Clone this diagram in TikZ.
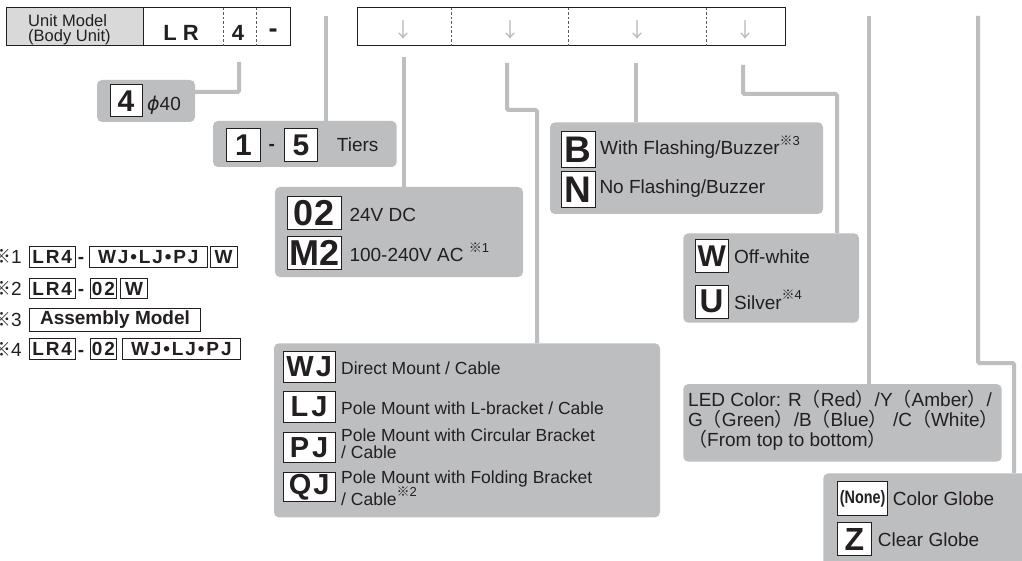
\documentclass[tikz,border=0pt]{standalone}
\usepackage{fontspec}
\setmainfont{Liberation Sans}
\newfontfamily\codefont{Liberation Sans Bold}
\newfontfamily\fncode{Liberation Sans Bold}[LetterSpace=10]
\newfontfamily\narrowcode{Liberation Sans Bold}[FakeStretch=0.8]
\newfontfamily\cjk{Noto Sans CJK SC}
\newfontfamily\djv{DejaVu Sans Oblique}
\definecolor{boxgray}{RGB}{189,190,192}
\definecolor{cellgray}{RGB}{217,217,217}
\definecolor{arrowgray}{RGB}{185,185,185}
\definecolor{ink}{RGB}{35,31,32}
\newcommand\fs[1]{\fontsize{#1}{#1}\selectfont}
\newcommand\refmark[1]{\raisebox{0.5em}{\fs{13}{\cjk ※}#1}}
\newcommand\lp{{\cjk （}}
\newcommand\rp{{\cjk ）}}
\tikzset{
  gbx/.style={fill=boxgray, rounded corners=5pt, inner sep=0pt, draw=none},
  cbx/.style={draw=ink, fill=white, line width=1pt, inner sep=0pt, text=ink},
  link/.style={draw=boxgray, line width=4pt, rounded corners=1.5pt},
  txt/.style={anchor=base west, inner sep=0pt, text=ink},
  ctext/.style={inner sep=0pt, text=ink},
  hy/.style={anchor=base, inner sep=0pt, text=ink, font=\codefont\fs{19}},
  divider/.style={line width=0.8pt, draw=black!65, dash pattern=on 2.5pt off 2pt},
  arr/.style={inner sep=0pt, text=arrowgray, font=\cjk\fs{20}},
}
\newcommand\cbox[7]{%
  \pgfmathsetmacro\cbW{#4-#2}\pgfmathsetmacro\cbH{#5-#3}%
  \pgfmathsetmacro\cbX{(#2+#4)/2}\pgfmathsetmacro\cbY{(#3+#5)/2}%
  \node[cbx, font={#6}, minimum width=\cbW pt, minimum height=\cbH pt] (#1) at (\cbX,\cbY) {#7};}
\newcommand\gbox[5]{%
  \pgfmathsetmacro\cbW{#4-#2}\pgfmathsetmacro\cbH{#5-#3}%
  \pgfmathsetmacro\cbX{(#2+#4)/2}\pgfmathsetmacro\cbY{(#3+#5)/2}%
  \node[gbx, minimum width=\cbW pt, minimum height=\cbH pt] (#1) at (\cbX,\cbY) {};}
\begin{document}
\begin{tikzpicture}[x=1pt,y=-1pt]
\clip (0,0) rectangle (1022,561);
\fill[white] (0,0) rectangle (1022,561);

% ---------- top row ----------
\node[draw=ink, fill=cellgray, line width=1pt, inner sep=0pt, minimum width=137pt, minimum height=38pt] (unit) at (74.5,27) {};
\node[txt, font=\fs{16.5}] (unitA) at (28,26.5) {Unit Model};
\node[txt, font=\fs{16.5}] (unitB) at (28,42) {(Body Unit)};
\node[draw=ink, fill=white, line width=1pt, inner sep=0pt, minimum width=147pt, minimum height=38pt] (code) at (216.5,27) {};
\draw[divider] (223,8) -- (223,46) (256,8) -- (256,46);
\node[ctext, font=\codefont\fs{22}] (lr) at (181,32.5) {L\hspace{6pt}R};
\node[ctext, font=\codefont\fs{22}] (four) at (238,32.5) {4};
\node[anchor=base, inner sep=0pt, text=ink, font=\codefont\fs{27}] (dash) at (273,38) {-};

\node[draw=ink, fill=white, line width=1pt, inner sep=0pt, minimum width=428pt, minimum height=38pt] (sel) at (571,27) {};
\draw[divider] (451.6,8) -- (451.6,46) (568,8) -- (568,46) (706,8) -- (706,46);
\node[arr] (a1) at (403.5,30) {↓};
\node[arr] (a2) at (510.7,30) {↓};
\node[arr] (a3) at (637.6,30) {↓};
\node[arr] (a4) at (745.7,30) {↓};

% ---------- gray option boxes ----------
\gbox{b4}{97}{80}{195}{122}
\gbox{tiers}{213}{121}{396.7}{167}
\gbox{volt}{275}{187}{523}{277}
\gbox{mount}{274}{343.3}{660}{517.3}
\gbox{flash}{550}{122.3}{823}{214}
\gbox{col}{683.3}{233.3}{859}{322.7}
\gbox{led}{683.3}{384}{1001.7}{461.7}
\gbox{globe}{823.3}{473.3}{1040}{580}

% ---------- connectors ----------
\coordinate (s1) at (239,62);  \coordinate (j1) at (239,92);
\draw[link] (s1) -- (j1) -- (j1 -| b4.east);
\coordinate (s2) at (326,16);
\draw[link] (s2) -- (s2 |- tiers.north);
\coordinate (s3) at (404,57);
\draw[link] (s3) -- (s3 |- volt.north);
\coordinate (s4) at (507,63); \coordinate (j4) at (507,110); \coordinate (k4) at (537,110);
\draw[link] (s4) -- (j4) -- (k4) -- (k4 |- mount.north);
\coordinate (s5) at (636,63);
\draw[link] (s5) -- (s5 |- flash.north);
\coordinate (s6) at (743,65); \coordinate (j6) at (743,94); \coordinate (k6) at (837,94);
\draw[link] (s6) -- (j6) -- (k6) -- (k6 |- col.north);
\coordinate (s7) at (869,16);
\draw[link] (s7) -- (s7 |- led.north);
\coordinate (s8) at (978,16); \coordinate (j8) at (978,363); \coordinate (k8) at (1014,363);
\draw[link] (s8) -- (j8) -- (k8) -- (k8 |- globe.north);

% ---------- box contents ----------
\cbox{c4}{110}{85}{142}{117}{\codefont\fs{30}}{4}
\node[txt, font=\fs{19}] (phi) at (147,111) {{\djv ϕ}40};

\cbox{c1}{226.7}{128.3}{260}{161.7}{\codefont\fs{30}}{1}
\node[hy] (tdash) at (271.7,151) {-};
\cbox{c5}{284.3}{128.3}{317.7}{161.7}{\codefont\fs{30}}{5}
\node[txt, font=\fs{19}] (tiersT) at (336.7,152) {Tiers};

\cbox{c02}{287.3}{196.7}{341.7}{230}{\codefont\fs{36}}{0\hspace{1pt}2}
\cbox{cM2}{287.3}{236.7}{341.7}{270}{\codefont\fs{36}}{M2}
\node[txt, font=\fs{19}] (t02) at (349.3,221.7) {24V DC};
\node[txt, font=\fs{19}] (tM2) at (349.3,261.7) {100-240V AC \refmark{1}};

\cbox{cWJ}{283.3}{351.7}{335}{382.3}{\codefont\fs{29}}{W\hspace{2pt}J}
\cbox{cLJ}{283.3}{391.7}{335}{422.3}{\codefont\fs{29}}{L\hspace{3pt}J}
\cbox{cPJ}{283.3}{432.3}{335}{462.7}{\codefont\fs{29}}{P\hspace{3pt}J}
\cbox{cQJ}{283.3}{472.3}{335}{501.7}{\codefont\fs{29}}{Q\hspace{2pt}J}
\node[txt, font=\fs{17.5}] (tWJ) at (341,374.5) {Direct Mount / Cable};
\node[txt, font=\fs{17.5}] (tLJ) at (341,414.5) {Pole Mount with L-bracket / Cable};
\node[txt, font=\fs{17.5}] (tPJa) at (341,441.2) {Pole Mount with Circular Bracket};
\node[txt, font=\fs{17.5}] (tPJb) at (341,458.5) {/ Cable};
\node[txt, font=\fs{17.5}] (tQJa) at (341,483.5) {Pole Mount with Folding Bracket};
\node[txt, font=\fs{17.5}] (tQJb) at (341,505.7) {/ Cable\refmark{2}};

\cbox{cB}{561.7}{131.7}{595}{167.3}{\codefont\fs{37}}{B}
\cbox{cN}{561.7}{171.7}{595}{207.3}{\codefont\fs{37}}{N}
\node[txt, font=\fs{19}] (tB) at (600,155) {With Flashing/Buzzer\refmark{3}};
\node[txt, font=\fs{19}] (tN) at (599.3,193.3) {No Flashing/Buzzer};

\cbox{cW}{695}{240}{728.3}{272.7}{\codefont\fs{30}}{W}
\cbox{cU}{695}{285}{728.3}{318.3}{\codefont\fs{33}}{U}
\node[txt, font=\fs{19}] (tW) at (734,264) {Off-white};
\node[txt, font=\fs{19}] (tU) at (734,309.3) {Silver\refmark{4}};

\node[txt, font=\fs{19}] (led1) at (688,406) {LED Color: R\lp Red\rp/Y\lp Amber\rp/};
\node[txt, font=\fs{19}] (led2) at (688,426) {G\lp Green\rp/B\lp Blue\rp\ /C\lp White\rp};
\node[txt, font=\fs{19}] (led3) at (688,446) {\lp From top to bottom\rp};

\cbox{cNone}{837.7}{481.7}{887.7}{515}{\narrowcode\fs{18}}{(None)}
\cbox{cZ}{837.7}{522.3}{871}{555.7}{\codefont\fs{32}}{Z}
\node[txt, font=\fs{19}] (tNone) at (892.7,505.7) {Color Globe};
\node[txt, font=\fs{19}] (tZ) at (877.7,546) {Clear Globe};

% ---------- footnotes ----------
\node[anchor=base east, inner sep=0pt, text=ink, font=\fs{19}] (n1) at (22,263.8) {{\cjk ※}1};
\cbox{f1a}{29.3}{246.7}{75}{267.3}{\fncode\fs{19}}{LR4}
\node[hy] (f1d) at (81,263.8) {-};
\cbox{f1b}{89.3}{246.7}{207.3}{267.3}{\fncode\fs{19}}{WJ•LJ•PJ}
\cbox{f1c}{210}{246.7}{237.3}{267.3}{\fncode\fs{19}}{W}

\node[anchor=base east, inner sep=0pt, text=ink, font=\fs{19}] (n2) at (22,295.3) {{\cjk ※}2};
\cbox{f2a}{29.3}{278.2}{75}{298.8}{\fncode\fs{19}}{LR4}
\node[hy] (f2d) at (81,295.3) {-};
\cbox{f2b}{90}{278.2}{116.7}{298.8}{\fncode\fs{19}}{02}
\cbox{f2c}{120.7}{278.2}{147.3}{298.8}{\fncode\fs{19}}{W}

\node[anchor=base east, inner sep=0pt, text=ink, font=\fs{19}] (n3) at (22,326.5) {{\cjk ※}3};
\cbox{f3a}{29.3}{308.3}{200.7}{331}{\codefont\fs{19}}{Assembly Model}

\node[anchor=base east, inner sep=0pt, text=ink, font=\fs{19}] (n4) at (22,356) {{\cjk ※}4};
\cbox{f4a}{29.3}{338.9}{75}{359.5}{\fncode\fs{19}}{LR4}
\node[hy] (f4d) at (81,356) {-};
\cbox{f4b}{90}{338.9}{116.7}{359.5}{\fncode\fs{19}}{02}
\cbox{f4c}{122.7}{338.9}{240}{359.5}{\fncode\fs{19}}{WJ•LJ•PJ}
\end{tikzpicture}
\end{document}
